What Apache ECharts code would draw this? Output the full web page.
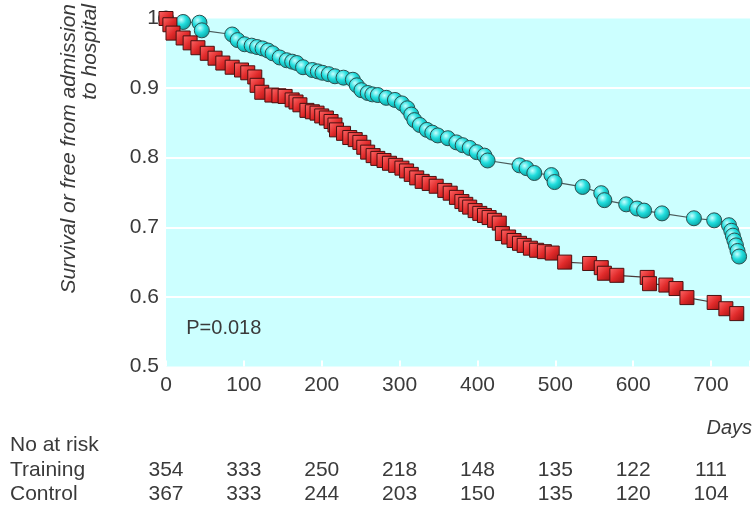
<!DOCTYPE html>
<html><head><meta charset="utf-8">
<script src="https://cdn.jsdelivr.net/npm/echarts@6/dist/echarts.min.js"></script>
<style>html,body{margin:0;padding:0;background:#fff}#c{width:753px;height:507px}</style>
</head><body><div id="c"></div>
<script>
const trainingDays = [0,22,43,46,85,92,101,110,117,124,131,137,146,155,162,168,176,188,195,201,209,217,228,240,245,251,259,265,272,283,294,303,310,315,319,326,335,342,349,362,373,381,390,399,409,413,454,463,473,495,499,535,559,563,591,605,614,637,678,704,723,726,728,730,732,734,736];
const trainingSurvival = [1.0,0.995,0.994,0.983,0.977,0.969,0.963,0.961,0.959,0.957,0.954,0.950,0.944,0.940,0.938,0.936,0.930,0.926,0.924,0.922,0.920,0.917,0.915,0.912,0.904,0.897,0.893,0.891,0.890,0.886,0.883,0.878,0.871,0.862,0.854,0.847,0.840,0.836,0.832,0.828,0.822,0.818,0.814,0.808,0.803,0.796,0.789,0.785,0.778,0.775,0.765,0.758,0.749,0.739,0.733,0.727,0.724,0.720,0.713,0.710,0.703,0.695,0.688,0.681,0.674,0.666,0.658];
const controlDays = [0,5,9,22,31,41,53,63,73,85,97,105,114,117,123,136,145,153,162,167,172,181,188,194,200,206,212,217,219,228,236,243,249,254,259,266,272,280,287,295,303,309,315,322,329,338,347,358,365,373,380,385,390,397,403,409,415,422,428,432,440,447,454,460,468,476,486,496,512,544,559,563,579,618,621,642,655,669,704,719,733];
const controlSurvival = [1.0,0.991,0.979,0.972,0.965,0.958,0.950,0.943,0.936,0.930,0.926,0.922,0.916,0.904,0.894,0.890,0.889,0.888,0.883,0.880,0.876,0.868,0.866,0.864,0.860,0.857,0.852,0.847,0.840,0.835,0.829,0.826,0.822,0.815,0.808,0.803,0.799,0.796,0.792,0.789,0.785,0.781,0.776,0.771,0.766,0.763,0.759,0.753,0.749,0.743,0.737,0.733,0.729,0.724,0.720,0.717,0.714,0.710,0.706,0.691,0.686,0.681,0.677,0.674,0.670,0.667,0.665,0.663,0.650,0.648,0.642,0.634,0.631,0.628,0.619,0.617,0.612,0.599,0.592,0.583,0.576];
const riskDays = [0,100,200,300,400,500,600,700];
const riskTraining = [354,333,250,218,148,135,122,111];
const riskControl = [367,333,244,203,150,135,120,104];
const pText = 'P=0.018';

const FONT = "'Liberation Sans', Arial, sans-serif";
const TXT = '#3a3a3a';
const chart = echarts.init(document.getElementById('c'), null, {renderer:'canvas'});
const zip = (a,b) => a.map((d,i)=>[d,b[i]]);

chart.setOption({
  animation:false,
  grid:{left:166, top:18.5, right:2, bottom:140.5, show:true, backgroundColor:'#ccffff', borderWidth:0},
  xAxis:{type:'value', min:0, max:750, interval:100,
    axisLine:{show:false},
    axisTick:{show:true, inside:true, length:6, lineStyle:{color:'#ffffff', width:2}},
    splitLine:{show:false},
    axisLabel:{color:TXT, fontFamily:FONT, fontSize:21, margin:8,
      formatter:v=> (v%100===0? String(v):'')}
  },
  yAxis:{type:'value', min:0.5, max:1, interval:0.1,
    axisLine:{show:false}, axisTick:{show:false},
    splitLine:{show:true, showMinLine:false, showMaxLine:false, lineStyle:{color:'#ffffff', width:2}},
    axisLabel:{color:TXT, fontFamily:FONT, fontSize:21, margin:7,
      formatter:v=> (Math.abs(v-1)<1e-9?'1':v.toFixed(1))}
  },
  series:[
    {type:'line', name:'Training', data:zip(trainingDays,trainingSurvival), clip:false,
     symbol:'circle', symbolSize:15,
     lineStyle:{color:'#4a5a5a', width:1.2},
     itemStyle:{color:{type:'radial', x:0.38, y:0.35, r:0.7, colorStops:[{offset:0,color:'#c8ffff'},{offset:0.45,color:'#22dede'},{offset:1,color:'#069a9a'}]},
       borderColor:'#2e4f4f', borderWidth:1}},
    {type:'line', name:'Control', data:zip(controlDays,controlSurvival), clip:false,
     symbol:'rect', symbolSize:14,
     lineStyle:{color:'#4a3a3a', width:1.2},
     itemStyle:{color:{type:'linear', x:0, y:0, x2:1, y2:1, colorStops:[{offset:0,color:'#ff6a6a'},{offset:0.5,color:'#e02a2a'},{offset:1,color:'#9a1010'}]},
       borderColor:'#4a1010', borderWidth:1}}
  ]
});

const gx = d => chart.convertToPixel({xAxisIndex:0}, d);
const gy = v => chart.convertToPixel({yAxisIndex:0}, v);
const g = [];
const t = (x,y,text,opt={}) => g.push({type:'text', x, y, silent:true,
  style:Object.assign({text, fill:TXT, font:`${opt.italic?'italic ':''}${opt.size||21}px ${FONT}`,
    align:opt.align||'left', verticalAlign:opt.va||'middle'}, opt.style||{}),
  rotation:opt.rot||0});
t(gx(26), gy(0.555), pText, {size:20});
t(752, 428, 'Days', {italic:true, align:'right', size:20});
t(10, 445, 'No at risk');
t(10, 470, 'Training');
t(10, 494, 'Control');
riskDays.forEach((d,i)=>{
  t(gx(d), 470, String(riskTraining[i]), {align:'center'});
  t(gx(d), 494, String(riskControl[i]), {align:'center'});
});
g.push({type:'text', x:59, y:4, rotation:Math.PI/2, silent:true,
  style:{text:'Survival or free from admission\nto hospital', fill:TXT, font:`italic 21px ${FONT}`,
    align:'right', verticalAlign:'top', lineHeight:21}});
chart.setOption({graphic:g});
</script></body></html>
